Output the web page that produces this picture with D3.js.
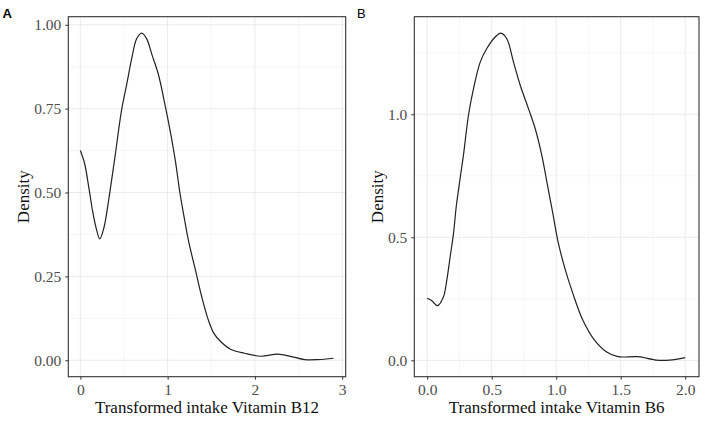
<!DOCTYPE html>
<html><head><meta charset="utf-8">
<script src="https://cdn.jsdelivr.net/npm/d3@7"></script>
<style>body{margin:0;background:#fff}svg{display:block}</style>
</head><body>
<svg id="chart" width="708" height="421"></svg>
<script>
// Panel A: Transformed intake Vitamin B12
const b12X = [0.00,0.05,0.10,0.14,0.18,0.223,0.27,0.32,0.36,0.40,0.47,0.53,0.59,0.645,0.703,0.76,0.82,0.895,0.97,1.03,1.09,1.14,1.19,1.24,1.32,1.39,1.46,1.53,1.61,1.72,1.88,2.07,2.26,2.42,2.57,2.72,2.90];
const b12Y = [0.625,0.585,0.51,0.445,0.395,0.362,0.395,0.47,0.54,0.612,0.742,0.821,0.901,0.958,0.975,0.958,0.911,0.851,0.761,0.682,0.592,0.50,0.425,0.355,0.267,0.190,0.125,0.080,0.055,0.033,0.021,0.012,0.018,0.011,0.002,0.002,0.006];
// Panel B: Transformed intake Vitamin B6
const b6X = [0.00,0.036,0.08,0.126,0.152,0.178,0.204,0.225,0.25,0.281,0.32,0.359,0.411,0.462,0.527,0.571,0.617,0.669,0.721,0.785,0.837,0.888,0.935,0.974,1.012,1.064,1.129,1.206,1.297,1.388,1.478,1.633,1.775,1.878,2.00];
const b6Y = [0.252,0.242,0.222,0.258,0.326,0.421,0.516,0.624,0.72,0.834,0.996,1.104,1.212,1.267,1.314,1.330,1.307,1.212,1.118,1.023,0.942,0.834,0.705,0.597,0.488,0.380,0.272,0.164,0.082,0.035,0.015,0.015,0.001,0.001,0.011];

const b12XTicks = [0,1,2,3];
const b12XMinor = [0.5,1.5,2.5];
const b12YTicks = [0,0.25,0.5,0.75,1.0];
const b12YMinor = [0.125,0.375,0.625,0.875];
const b6XTicks = [0,0.5,1.0,1.5,2.0];
const b6XMinor = [0.25,0.75,1.25,1.75];
const b6YTicks = [0,0.5,1.0];
const b6YMinor = [0.25,0.75,1.25];

const svg = d3.select("#chart");
const SERIF = "'Liberation Serif','Times New Roman',serif";

function panel(cfg){
  const {left,right,top,bottom,xs,ys,xDom,yDom,xTicks,xMinor,yTicks,yMinor,xFmt,yFmt,xTitle,label,labelX,labelWeight,yTitleX} = cfg;
  const x = d3.scaleLinear().domain(xDom).range([left,right]);
  const y = d3.scaleLinear().domain(yDom).range([bottom,top]);
  const g = svg.append("g");
  g.selectAll(".xm").data(xMinor).join("line")
    .attr("x1",d=>x(d)).attr("x2",d=>x(d)).attr("y1",top).attr("y2",bottom)
    .attr("stroke","#f4f4f4").attr("stroke-width",0.8);
  g.selectAll(".ym").data(yMinor).join("line")
    .attr("y1",d=>y(d)).attr("y2",d=>y(d)).attr("x1",left).attr("x2",right)
    .attr("stroke","#f4f4f4").attr("stroke-width",0.8);
  g.selectAll(".xg").data(xTicks).join("line")
    .attr("x1",d=>x(d)).attr("x2",d=>x(d)).attr("y1",top).attr("y2",bottom)
    .attr("stroke","#ebebeb").attr("stroke-width",1);
  g.selectAll(".yg").data(yTicks).join("line")
    .attr("y1",d=>y(d)).attr("y2",d=>y(d)).attr("x1",left).attr("x2",right)
    .attr("stroke","#ebebeb").attr("stroke-width",1);
  const pts = xs.map((v,i)=>[v,ys[i]]);
  const line = d3.line().x(d=>x(d[0])).y(d=>y(d[1])).curve(d3.curveCatmullRom.alpha(0.5));
  g.append("path").datum(pts).attr("d",line).attr("fill","none")
    .attr("stroke","#222").attr("stroke-width",1.2);
  g.append("rect").attr("x",left).attr("y",top).attr("width",right-left).attr("height",bottom-top)
    .attr("fill","none").attr("stroke","#333").attr("stroke-width",1.1);
  const xa = g.append("g").attr("transform",`translate(0,${bottom})`)
    .call(d3.axisBottom(x).tickValues(xTicks).tickFormat(xFmt).tickSize(3).tickPadding(4));
  xa.select(".domain").remove();
  xa.selectAll("line").attr("stroke","#333");
  xa.selectAll("text").attr("font-family",SERIF).attr("font-size",15.5).attr("fill","#4d4d4d");
  const ya = g.append("g").attr("transform",`translate(${left},0)`)
    .call(d3.axisLeft(y).tickValues(yTicks).tickFormat(yFmt).tickSize(3).tickPadding(4));
  ya.select(".domain").remove();
  ya.selectAll("line").attr("stroke","#333");
  ya.selectAll("text").attr("font-family",SERIF).attr("font-size",15.5).attr("fill","#4d4d4d");
  g.append("text").attr("x",(left+right)/2).attr("y",413).attr("text-anchor","middle")
    .attr("font-family",SERIF).attr("font-size",17).attr("fill","#111").text(xTitle);
  g.append("text").attr("transform",`translate(${yTitleX},${(top+bottom)/2}) rotate(-90)`)
    .attr("text-anchor","middle")
    .attr("font-family",SERIF).attr("font-size",17).attr("fill","#111").text("Density");
  svg.append("text").attr("x",labelX).attr("y",18).attr("font-family","'Liberation Sans',Arial,sans-serif")
    .attr("font-size",13).attr("font-weight",labelWeight).attr("fill","#000").text(label);
}

panel({left:68.3,right:345.7,top:16.7,bottom:376.7,xs:b12X,ys:b12Y,
  xDom:[-0.138,3.04],yDom:[-0.049,1.024],xTicks:b12XTicks,xMinor:b12XMinor,
  yTicks:b12YTicks,yMinor:b12YMinor,xFmt:d3.format("d"),yFmt:d3.format(".2f"),
  xTitle:"Transformed intake Vitamin B12",label:"A",labelX:2.5,labelWeight:"bold",yTitleX:29});

panel({left:414.3,right:699,top:16.7,bottom:376.7,xs:b6X,ys:b6Y,
  xDom:[-0.1,2.107],yDom:[-0.0665,1.3965],xTicks:b6XTicks,xMinor:b6XMinor,
  yTicks:b6YTicks,yMinor:b6YMinor,xFmt:d3.format(".1f"),yFmt:d3.format(".1f"),
  xTitle:"Transformed intake Vitamin B6",label:"B",labelX:357,labelWeight:"normal",yTitleX:383});
</script>
</body></html>
